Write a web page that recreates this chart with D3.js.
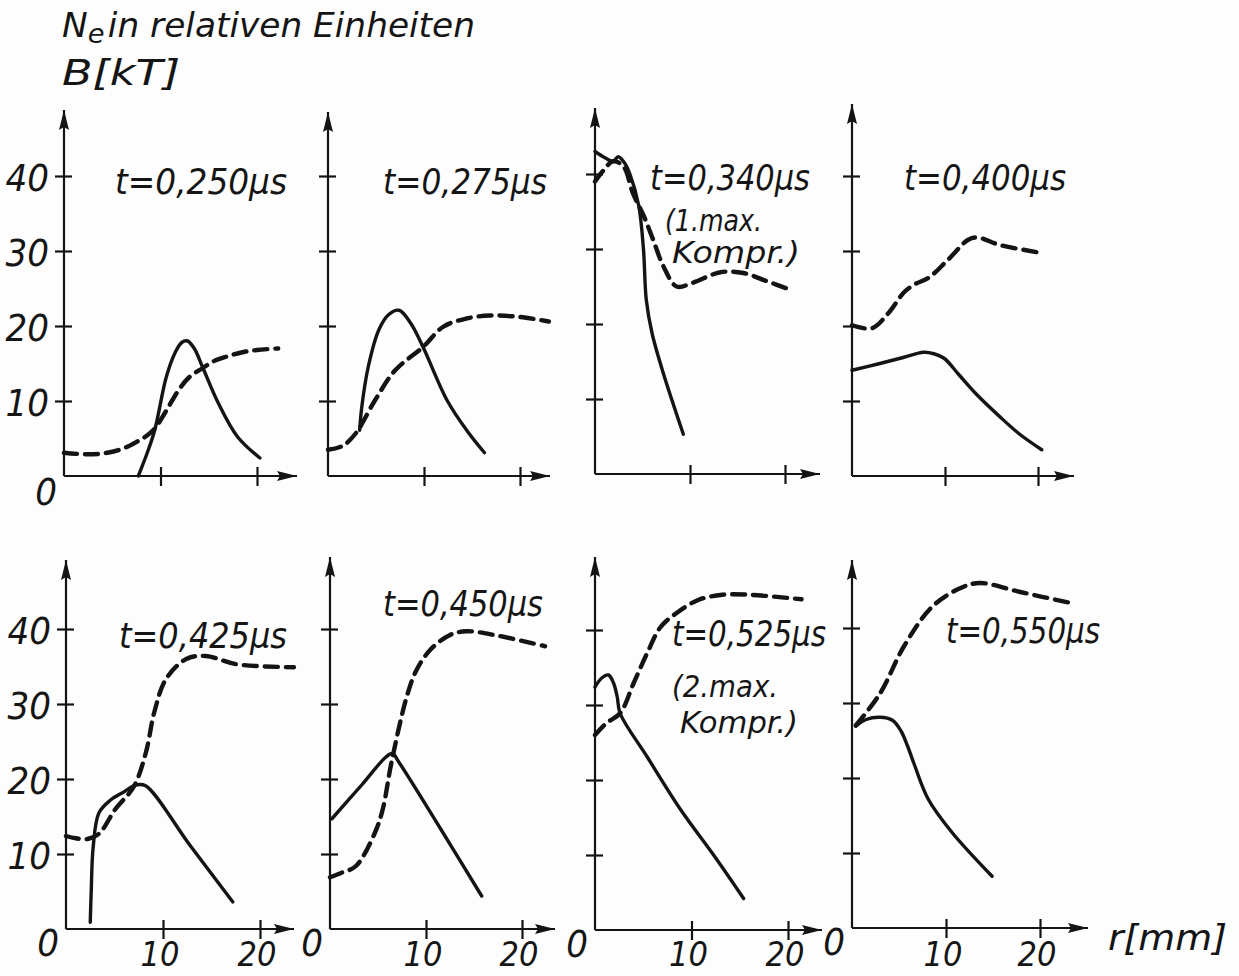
<!DOCTYPE html>
<html lang="de">
<head>
<meta charset="UTF-8">
<script src="https://d3js.org/d3.v7.min.js"></script>
<title>Ne und B Profile</title>
<style>
  body { margin: 0; background: #fdfdfd; }
  svg text {
    font-family: "DejaVu Sans Condensed", "DejaVu Sans", sans-serif;
    font-style: oblique;
    fill: #151515;
  }
</style>
</head>
<body>
<svg id="svg" width="1239" height="976"></svg>
<script>
// ---- data (r in mm, value in rel. units / kT) ----
const panelTimes = ["t=0,250μs", "t=0,275μs", "t=0,340μs", "t=0,400μs",
                    "t=0,425μs", "t=0,450μs", "t=0,525μs", "t=0,550μs"];
const panelNotes = [null, null, ["(1.max.", "Kompr.)"], null,
                    null, null, ["(2.max.", "Kompr.)"], null];
const xTicks = [10, 20];
const yTicks = [10, 20, 30, 40];
const xTickLabels = ["10", "20"];
const yTickLabels = ["10", "20", "30", "40"];

const solid250 = [[7.7,0],[8.6,3],[9.4,6.1],[10.6,13.2],[11.5,16.4],[12.2,17.8],[12.8,18],[13.5,17],[14.4,14.4],[16,9.7],[18,5.2],[20.3,2.4]];
const dashed250 = [[0,3.1],[2,2.9],[4,3.0],[6,3.6],[7.6,4.6],[8.5,5.3],[9.4,6.3],[10.5,8.5],[11.9,11.5],[13,13.2],[14.4,14.4],[15.5,15.3],[16.8,15.9],[18.5,16.5],[20,16.8],[22.2,17]];
const solid275 = [[3.3,6.1],[3.5,9],[4.2,14.6],[5.3,19.5],[6.3,21.5],[7.4,22.1],[8.6,20.4],[9.9,17.2],[12.4,10.1],[14.5,6],[16.3,3.1]];
const dashed275 = [[0,3.5],[1.5,4],[2.9,5.7],[4.9,10.1],[7,14.1],[9.9,17.2],[12,19.9],[14.4,21],[16.9,21.4],[20,21.2],[23,20.6]];
const solid340 = [[0,43],[1,42.2],[1.9,41.7],[2.45,42.3],[3.1,41.5],[3.7,39.9],[4.6,35.8],[5.1,30],[5.4,23.2],[6,18.8],[7.2,13.4],[9.3,5.3]];
const dashed340 = [[0,39],[0.9,40.5],[1.9,41.7],[3.0,41],[4.0,37.4],[5.1,34.5],[6.1,31.3],[7.2,27.7],[8.6,25],[10.3,25.5],[13.2,26.9],[15.6,26.8],[18.1,25.7],[20.5,24.6]];
const solid400 = [[0,14.1],[3,15],[5.5,15.8],[7.7,16.5],[8.8,16.3],[9.9,15.7],[11.5,13.5],[13.3,11],[15.9,7.9],[18,5.6],[20.4,3.5]];
const dashed400 = [[0,20.1],[2.15,19.7],[3.9,21.7],[5.6,24.5],[6.8,25.6],[8.2,26.4],[10.3,28.8],[12.5,31.5],[13.5,31.8],[15.9,30.8],[20.6,29.7]];
const solid425 = [[2.5,0.9],[2.6,5],[2.8,10.9],[3.4,15.5],[4.6,17.2],[6,18.3],[7.2,19.2],[8.2,19.1],[12.7,11.3],[17.2,3.6]];
const dashed425 = [[0,12.4],[1,12.1],[2.2,12],[3.4,12.7],[5.1,16],[7.0,19],[8.25,23.6],[9.1,28.9],[10.3,33.3],[12.4,36],[14.4,36.4],[17.6,35.3],[23.5,34.9]];
const solid450 = [[0.2,14.7],[3.3,19.2],[5.8,22.9],[6.5,23.4],[7.2,22.2],[11.5,13.4],[15.8,4.4]];
const dashed450 = [[0,6.9],[1.2,7.5],[2.7,8.4],[4.7,12.9],[5.5,16],[6.4,22.2],[8.0,31],[9,34.5],[10.5,37.3],[12.5,39.2],[14.2,39.7],[17.5,39.1],[22.4,37.7]];
const solid525 = [[0,32.4],[0.7,33.6],[1.4,34],[1.9,33],[2.3,31.1],[2.6,28.9],[5.4,23.1],[8.9,16],[12.4,9.8],[15.4,4.2]];
const dashed525 = [[0,26],[1.2,27.6],[2.6,28.9],[4.0,32.9],[5.4,36.9],[6.8,40.4],[8.6,42.4],[10.7,44],[13.2,44.7],[16,44.7],[21.4,44.1]];
const solid550 = [[0.4,26.9],[1.5,27.8],[3,28.1],[4.3,27.7],[5.2,26.3],[5.9,24.3],[6.6,21.9],[8.1,17.2],[10.6,12.8],[14.9,6.9]];
const dashed550 = [[0.4,27],[3.0,31.3],[5.5,37.5],[8.5,42.8],[11.5,45.3],[13.6,46],[17.9,44.8],[23.4,43.3]];

const solidCurves = [solid250, solid275, solid340, solid400, solid425, solid450, solid525, solid550];
const dashedCurves = [dashed250, dashed275, dashed340, dashed400, dashed425, dashed450, dashed525, dashed550];

// ---- layout (pixels) ----
const origins = [[64,476],[328,476],[595,474],[852,476],[66,929],[330,929],[595,930],[852,928]];
const x20px = [257, 520, 785, 1038, 260, 522, 788, 1040];
const xEnd = [297, 550, 820, 1074, 294, 555, 822, 1088];
const yTop = [110, 112, 108, 104, 560, 557, 557, 560];
const labelPos = [[115,194,172],[383,194,164],[650,190,160],[904,190,162],
                  [119,648,168],[383,616,160],[672,646,154],[946,643,154]];
const notePos = [null, null, [[665,231,97],[672,263,128]], null,
                 null, null, [[672,697,106],[680,733,118]], null];

const svg = d3.select("#svg");
const ink = "#141414";

svg.append("defs").append("marker")
  .attr("id", "arrow")
  .attr("markerUnits", "userSpaceOnUse")
  .attr("markerWidth", 22).attr("markerHeight", 12)
  .attr("refX", 20).attr("refY", 5)
  .attr("orient", "auto")
  .append("path")
  .attr("d", "M0,0 L20,5 L0,10 L3,5 Z")
  .attr("fill", ink);

function drawPanel(i) {
  const [ox, oy] = origins[i];
  const x = d3.scaleLinear().domain([0, 20]).range([ox, x20px[i]]);
  const y = d3.scaleLinear().domain([0, 40]).range([oy, oy - 300]);
  const g = svg.append("g");

  // axes with arrow heads
  g.append("line").attr("x1", ox).attr("y1", oy).attr("x2", xEnd[i]).attr("y2", oy)
    .attr("stroke", ink).attr("stroke-width", 2.2).attr("marker-end", "url(#arrow)");
  g.append("line").attr("x1", ox).attr("y1", oy).attr("x2", ox).attr("y2", yTop[i])
    .attr("stroke", ink).attr("stroke-width", 2.2).attr("marker-end", "url(#arrow)");

  // ticks crossing the axes
  const xa = g.append("g").attr("transform", `translate(0,${oy - 9})`)
    .call(d3.axisBottom(x).tickValues(xTicks).tickSize(19).tickFormat(""));
  const ya = g.append("g").attr("transform", `translate(${ox + 8},0)`)
    .call(d3.axisLeft(y).tickValues(yTicks).tickSize(17).tickFormat(""));
  [xa, ya].forEach(a => {
    a.select(".domain").remove();
    a.selectAll("line").attr("stroke", ink).attr("stroke-width", 2.2);
  });

  const line = d3.line()
    .x(d => x(d[0]))
    .y(d => y(d[1]))
    .curve(d3.curveCatmullRom.alpha(0.5));

  g.append("path").datum(dashedCurves[i])
    .attr("d", line).attr("fill", "none").attr("stroke", ink)
    .attr("stroke-width", 4.4).attr("stroke-dasharray", "13,8")
    .attr("stroke-linecap", "round");
  g.append("path").datum(solidCurves[i])
    .attr("d", line).attr("fill", "none").attr("stroke", ink)
    .attr("stroke-width", 3.4).attr("stroke-linecap", "round");

  // time label
  const [lx, ly, lw] = labelPos[i];
  g.append("text").attr("x", lx).attr("y", ly)
    .attr("font-size", 36).attr("textLength", lw).attr("lengthAdjust", "spacingAndGlyphs")
    .text(panelTimes[i]);
  if (panelNotes[i]) {
    panelNotes[i].forEach((t, k) => {
      const [nx, ny, nw] = notePos[i][k];
      g.append("text").attr("x", nx).attr("y", ny)
        .attr("font-size", 30).attr("textLength", nw).attr("lengthAdjust", "spacingAndGlyphs")
        .text(t);
    });
  }

  // tick labels
  if (i === 0 || i === 4) {
    yTicks.forEach((v, k) => {
      g.append("text").attr("x", ox - 15).attr("y", y(v) + 15)
        .attr("text-anchor", "end").attr("font-size", 38)
        .text(yTickLabels[k]);
    });
  }
  if (i === 0 || i >= 4) {
    g.append("text").attr("x", ox - 7).attr("y", oy + (i < 4 ? 29 : 27))
      .attr("text-anchor", "end").attr("font-size", 38).text("0");
  }
  if (i >= 4) {
    xTicks.forEach((v, k) => {
      g.append("text").attr("x", x(v) - 3).attr("y", 966)
        .attr("text-anchor", "middle").attr("font-size", 34)
        .text(xTickLabels[k]);
    });
  }
}

d3.range(8).forEach(drawPanel);

// axis titles
const title = svg.append("text").attr("x", 62).attr("y", 37).attr("font-size", 34)
  .attr("textLength", 413).attr("lengthAdjust", "spacingAndGlyphs");
title.append("tspan").text("N");
title.append("tspan").attr("dy", 6).attr("font-size", 27).text("e");
title.append("tspan").attr("dy", -6).attr("dx", 3).text("in relativen  Einheiten");

svg.append("text").attr("x", 62).attr("y", 85).attr("font-size", 36)
  .attr("textLength", 118).attr("lengthAdjust", "spacingAndGlyphs").text("B[kT]");

svg.append("text").attr("x", 1108).attr("y", 950).attr("font-size", 36)
  .attr("textLength", 119).attr("lengthAdjust", "spacingAndGlyphs").text("r[mm]");
</script>
</body>
</html>
